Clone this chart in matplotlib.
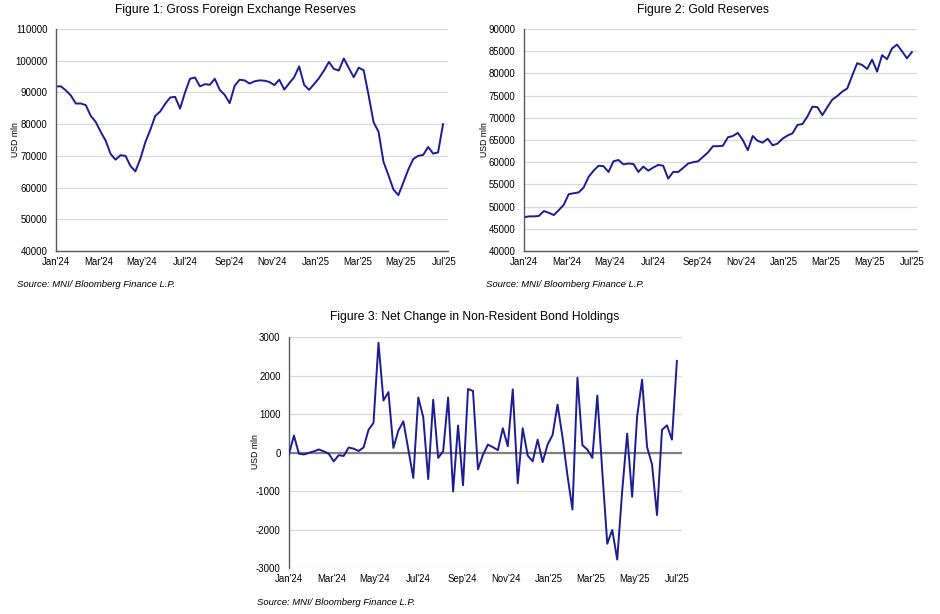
import numpy as np
import pandas as pd
import matplotlib
matplotlib.use("Agg")
import matplotlib.pyplot as plt
import matplotlib.dates as mdates

plt.rcParams["font.family"] = ["Liberation Sans", "DejaVu Sans"]
plt.rcParams["axes.unicode_minus"] = False

# weekly observations, Jan'24 - Jun'25
dates = pd.date_range("2024-01-01", periods=79, freq="7D")

fx_reserves = [
    91900, 91900, 90600, 89000, 86500, 86500, 86000, 82600, 80700, 77600,
    74800, 70600, 68800, 70200, 70000, 66800, 65100, 69100, 74300, 78200,
    82600, 84000, 86400, 88400, 88600, 84900, 90000, 94300, 94700, 91900,
    92600, 92400, 94300, 90800, 89200, 86600, 92100, 94000, 93800, 92800,
    93500, 93800, 93700, 93300, 92300, 94000, 90900, 92900, 94800, 98200,
    92400, 90800, 92600, 94500, 96900, 99600, 97400, 96900, 100700, 97700,
    94800, 97800, 97000, 89100, 80600, 77600, 68100, 63900, 59400, 57600,
    61600, 65700, 69000, 70000, 70300, 72800, 70700, 71100, 80000,
]

gold_reserves = [
    47600, 47800, 47800, 47900, 49000, 48600, 48100, 49200, 50400, 52800,
    53000, 53200, 54300, 56700, 58100, 59200, 59100, 57800, 60200, 60500,
    59500, 59700, 59600, 57800, 59000, 58100, 58800, 59400, 59200, 56300,
    57800, 57800, 58700, 59700, 60000, 60200, 61200, 62200, 63600, 63600,
    63700, 65600, 65900, 66600, 65000, 62700, 65900, 64800, 64400, 65300,
    63800, 64200, 65300, 66000, 66500, 68400, 68600, 70300, 72500, 72400,
    70600, 72400, 74100, 74900, 75900, 76600, 79500, 82300, 81900, 81000,
    83100, 80400, 84100, 83200, 85600, 86500, 85000, 83400, 84800,
]

bond_flows = [
    -40, 440, -30, -50, -10, 30, 80, 30, -30, -230,
    -70, -90, 130, 100, 40, 130, 590, 770, 2850, 1350,
    1570, 120, 570, 810, 80, -660, 1430, 920, -690, 1370,
    -140, 30, 1430, -1010, 700, -850, 1650, 1600, -440, -60,
    205, 140, 60, 630, 165, 1640, -800, 630, -80, -230,
    335, -250, 205, 455, 1245, 400, -600, -1480, 1945, 190,
    75, -140, 1480, -500, -2370, -2010, -2780, -1000, 490, -1150,
    940, 1890, 145, -310, -1625, 590, 705, 335, 2380,
]

LINE = "#1c1c96"
GRID = "#d9d9d9"
SPINE = "#595959"
SOURCE = "Source: MNI/ Bloomberg Finance L.P."


def style_axis(ax, ymin, ymax, step, bottom_spine=True):
    ax.set_xlim(pd.Timestamp("2024-01-01"), pd.Timestamp("2025-07-07"))
    ax.set_ylim(ymin, ymax)
    ax.set_yticks(np.arange(ymin, ymax + 1, step))
    ax.xaxis.set_major_locator(mdates.MonthLocator(bymonth=[1, 3, 5, 7, 9, 11]))
    ax.xaxis.set_major_formatter(mdates.DateFormatter("%b'%y"))
    ax.grid(axis="y", color=GRID, linewidth=0.9)
    ax.set_axisbelow(True)
    for s in ["top", "right"]:
        ax.spines[s].set_visible(False)
    ax.spines["left"].set_color(SPINE)
    ax.spines["left"].set_linewidth(1.0)
    if bottom_spine:
        ax.spines["bottom"].set_color(SPINE)
        ax.spines["bottom"].set_linewidth(1.0)
    else:
        ax.spines["bottom"].set_visible(False)
    ax.tick_params(axis="both", length=0, labelsize=6.9, colors="#000000")
    ax.tick_params(axis="y", pad=6)
    ax.tick_params(axis="x", pad=4)


fig = plt.figure(figsize=(9.4, 6.14), dpi=100)

# Figure 1
ax1 = fig.add_axes([0.0596, 0.5912, 0.417, 0.3616])
ax1.plot(dates, fx_reserves, color=LINE, linewidth=1.4)
style_axis(ax1, 40000, 110000, 10000)
fig.text(0.25, 0.984, "Figure 1: Gross Foreign Exchange Reserves",
         ha="center", va="center", fontsize=8.7)
fig.text(0.017, 0.772, "USD mln", rotation=90, ha="center", va="center", fontsize=6.3)
fig.text(0.018, 0.537, SOURCE, style="italic", ha="left", va="center", fontsize=6.8)

# Figure 2
ax2 = fig.add_axes([0.5574, 0.5912, 0.418, 0.3616])
ax2.plot(dates, gold_reserves, color=LINE, linewidth=1.4)
style_axis(ax2, 40000, 90000, 5000)
fig.text(0.748, 0.984, "Figure 2: Gold Reserves",
         ha="center", va="center", fontsize=8.7)
fig.text(0.515, 0.772, "USD mln", rotation=90, ha="center", va="center", fontsize=6.3)
fig.text(0.517, 0.537, SOURCE, style="italic", ha="left", va="center", fontsize=6.8)

# Figure 3
ax3 = fig.add_axes([0.3074, 0.0749, 0.418, 0.3762])
ax3.axhline(0, color="#808080", linewidth=1.6, zorder=1.5)
ax3.plot(dates, bond_flows, color=LINE, linewidth=1.4, zorder=3)
style_axis(ax3, -3000, 3000, 1000, bottom_spine=False)
fig.text(0.505, 0.4837, "Figure 3: Net Change in Non-Resident Bond Holdings",
         ha="center", va="center", fontsize=8.7)
fig.text(0.272, 0.264, "USD mln", rotation=90, ha="center", va="center", fontsize=6.3)
fig.text(0.273, 0.018, SOURCE, style="italic", ha="left", va="center", fontsize=6.8)

fig.savefig("out.png", dpi=100)
